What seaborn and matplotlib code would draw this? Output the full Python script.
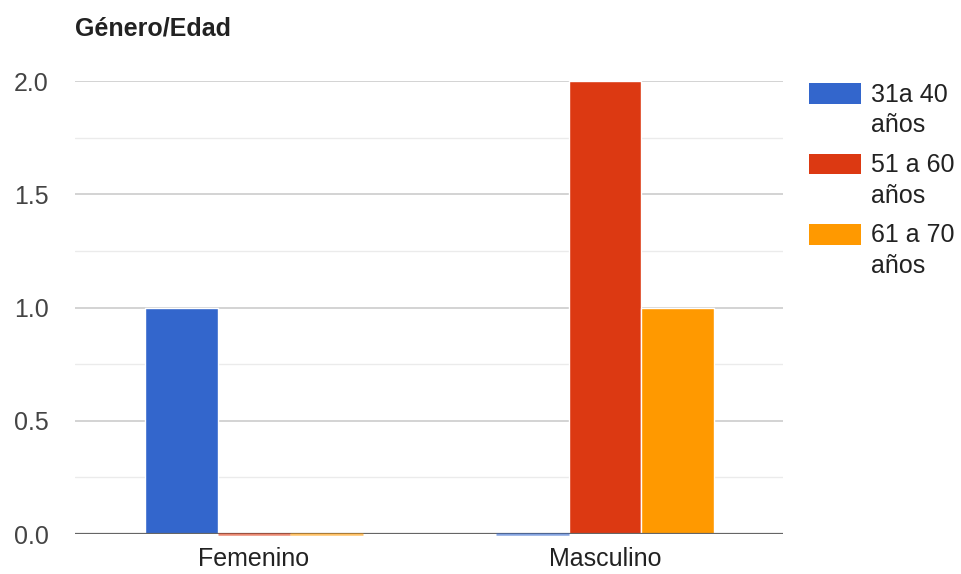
import pandas as pd
import numpy as np
import matplotlib
matplotlib.use("Agg")
import matplotlib.pyplot as plt
import seaborn as sns
from matplotlib.patches import Rectangle
from matplotlib.legend_handler import HandlerPatch
from matplotlib.ticker import MultipleLocator

# Data
generos = ["Femenino", "Masculino"]
edades = ["31a 40 años", "51 a 60 años", "61 a 70 años"]
edades_leyenda = ["31a 40\naños", "51 a 60\naños", "61 a 70\naños"]
valores_31_40 = [1, 0]
valores_51_60 = [0, 2]
valores_61_70 = [0, 1]
colores = ["#3366cc", "#dc3912", "#ff9900"]

df = pd.DataFrame({
    "Genero": generos * 3,
    "Edad": [edades[0]] * 2 + [edades[1]] * 2 + [edades[2]] * 2,
    "Cantidad": valores_31_40 + valores_51_60 + valores_61_70,
})

sns.set_theme(style="white")
plt.rcParams["font.family"] = ["Liberation Sans", "DejaVu Sans"]
fs = 18

fig = plt.figure(figsize=(9.61, 5.74), dpi=100)
ax = fig.add_axes([75 / 961, 40 / 574, 708 / 961, 453 / 574])

sns.barplot(data=df, x="Genero", y="Cantidad", hue="Edad", hue_order=edades,
            palette=colores, width=0.62, saturation=1, errorbar=None,
            edgecolor="white", linewidth=1, ax=ax, legend=False)

ax.axhline(0, color="#666666", linewidth=1.6, zorder=3)

# zero-height bars show as a thin coloured line on the baseline
for i, cont in enumerate(ax.containers):
    for bar in cont:
        if bar.get_height() == 0:
            bar.set_edgecolor(colores[i])
            bar.set_alpha(0.6)
            bar.set_linewidth(1.8)
            bar.set_zorder(5)
            bar.set_clip_on(False)

ax.set_ylim(0, 2.0)
ax.set_xlim(-0.51, 1.507)
ax.yaxis.set_major_locator(MultipleLocator(0.5))
ax.yaxis.set_minor_locator(MultipleLocator(0.25))
ax.grid(axis="y", which="major", color="#cccccc", linewidth=1.2)
ax.grid(axis="y", which="minor", color="#ebebeb", linewidth=1.0)
ax.set_axisbelow(True)
for s in ax.spines.values():
    s.set_visible(False)

ax.set_xlabel("")
ax.set_ylabel("")
ax.set_yticks([0, 0.5, 1.0, 1.5, 2.0])
ax.set_yticklabels(["0.0", "0.5", "1.0", "1.5", "2.0"])
ax.tick_params(axis="y", which="both", length=0, pad=19, labelsize=fs, labelcolor="#444444")
ax.tick_params(axis="x", length=0, pad=9, labelsize=fs, labelcolor="#222222")

fig.text(75 / 961, 1 - 28 / 574, "Género/Edad", fontsize=fs, fontweight="bold",
         color="#222222", va="center", ha="left")


def parche_arriba(legend, orig_handle, xdescent, ydescent, width, height, fontsize):
    return Rectangle((-xdescent, -ydescent + 0.68 * fontsize), width, height)


handles = [Rectangle((0, 0), 1, 1, facecolor=c, edgecolor="none") for c in colores]
leg = fig.legend(handles, edades_leyenda, loc="upper left",
                 bbox_to_anchor=(786 / 961, 1 - 60 / 574), frameon=False,
                 fontsize=fs, labelcolor="#222222",
                 handlelength=2.1, handleheight=0.9, handletextpad=0.4,
                 labelspacing=0.63,
                 handler_map={Rectangle: HandlerPatch(patch_func=parche_arriba)})
for t in leg.get_texts():
    t.set_linespacing(1.35)

fig.savefig("out.png", dpi=100)
